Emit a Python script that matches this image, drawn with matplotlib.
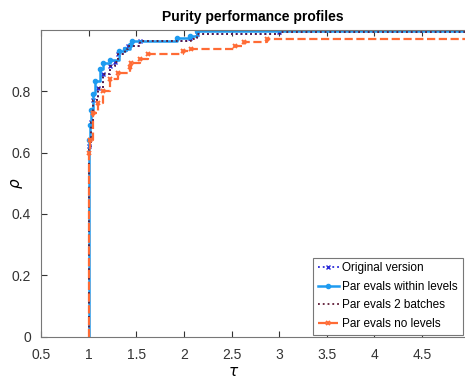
import matplotlib
matplotlib.use("Agg")
import matplotlib.pyplot as plt

# performance profile data (tau, rho)
tau_orig = [1.0, 1.0, 1.03, 1.05, 1.10, 1.15, 1.22, 1.28, 1.31, 1.38, 1.41, 1.54, 2.06, 2.14, 3.00]
rho_orig = [0.0, 0.62, 0.70, 0.77, 0.81, 0.857, 0.883, 0.894, 0.92, 0.938, 0.948, 0.962, 0.972, 0.985, 0.993]

tau_within = [1.0, 1.0, 1.01, 1.03, 1.05, 1.07, 1.12, 1.15, 1.23, 1.32, 1.38, 1.435, 1.46, 1.925, 2.065, 2.135]
rho_within = [0.0, 0.64, 0.69, 0.737, 0.79, 0.834, 0.873, 0.89, 0.90, 0.93, 0.938, 0.951, 0.962, 0.973, 0.98, 0.995]

tau_batch = [1.0, 1.0, 1.03, 1.05, 1.10, 1.15, 1.23, 1.28, 1.31, 1.38, 1.41, 1.54, 2.07, 2.14, 3.01]
rho_batch = [0.0, 0.62, 0.70, 0.77, 0.81, 0.857, 0.883, 0.894, 0.92, 0.938, 0.948, 0.962, 0.970, 0.985, 0.993]

tau_nolev = [1.0, 1.0, 1.015, 1.05, 1.10, 1.15, 1.225, 1.31, 1.435, 1.45, 1.54, 1.625, 1.99, 2.08, 2.54, 2.63, 2.87]
rho_nolev = [0.0, 0.60, 0.64, 0.727, 0.76, 0.80, 0.84, 0.86, 0.877, 0.89, 0.905, 0.92, 0.93, 0.938, 0.945, 0.959, 0.97]

labels = ["Original version", "Par evals within levels", "Par evals 2 batches", "Par evals no levels"]
x_ticks = [0.5, 1, 1.5, 2, 2.5, 3, 3.5, 4, 4.5]
y_ticks = [0, 0.2, 0.4, 0.6, 0.8]

plt.rcParams['font.family'] = ['Liberation Sans', 'DejaVu Sans']

fig = plt.figure(figsize=(4.65, 3.79), dpi=100)
ax = fig.add_axes([0.088, 0.111, 0.912, 0.811])

x_end = 5.2
ax.step(tau_orig + [x_end], rho_orig + [rho_orig[-1]], where='post', color='#2a2ad8',
        linestyle=':', linewidth=1.3, marker='x', markersize=3, markevery=list(range(1, len(tau_orig))),
        label=labels[0])
ax.step(tau_within + [x_end], rho_within + [rho_within[-1]], where='post', color='#1e9bf0',
        linestyle='-', linewidth=1.8, marker='o', markersize=3, markevery=list(range(1, len(tau_within))),
        label=labels[1])
ax.step(tau_batch + [x_end], rho_batch + [rho_batch[-1]], where='post', color='#5e1a35',
        linestyle=':', linewidth=1.3, label=labels[2])
ax.step(tau_nolev + [x_end], rho_nolev + [rho_nolev[-1]], where='post', color='#ff6b35',
        linestyle='--', linewidth=1.6, marker='x', markersize=3.5, markeredgewidth=1.4,
        markevery=list(range(1, len(tau_nolev))), label=labels[3])

ax.set_xlim(0.5, 4.95)
ax.set_ylim(0, 1)
ax.set_xticks(x_ticks)
ax.set_xticklabels(['0.5', '1', '1.5', '2', '2.5', '3', '3.5', '4', '4.5'])
ax.set_yticks(y_ticks)
ax.set_yticklabels(['0', '0.2', '0.4', '0.6', '0.8'])
ax.tick_params(direction='in', top=True, right=False, labelsize=10, colors='#333333', length=4)
ax.tick_params(axis='x', pad=8)
ax.tick_params(axis='y', pad=7)
for side in ['left', 'bottom', 'top']:
    ax.spines[side].set_color('#777777')
ax.spines['right'].set_visible(False)

ax.set_title('Purity performance profiles', fontsize=10, fontweight='bold', pad=6)
ax.set_xlabel(r'$\tau$', fontsize=11)
ax.xaxis.set_label_coords(0.455, -0.09)
ax.set_ylabel(r'$\rho$', fontsize=11)
ax.yaxis.set_label_coords(-0.038, 0.5)

leg = ax.legend(loc='lower right', fontsize=8.5, fancybox=False, framealpha=1,
                edgecolor='#777777', handlelength=1.8, handletextpad=0.3,
                borderpad=0.4, labelspacing=0.55, borderaxespad=0.2)
leg.get_frame().set_linewidth(0.8)

fig.savefig('out.png', dpi=100)
